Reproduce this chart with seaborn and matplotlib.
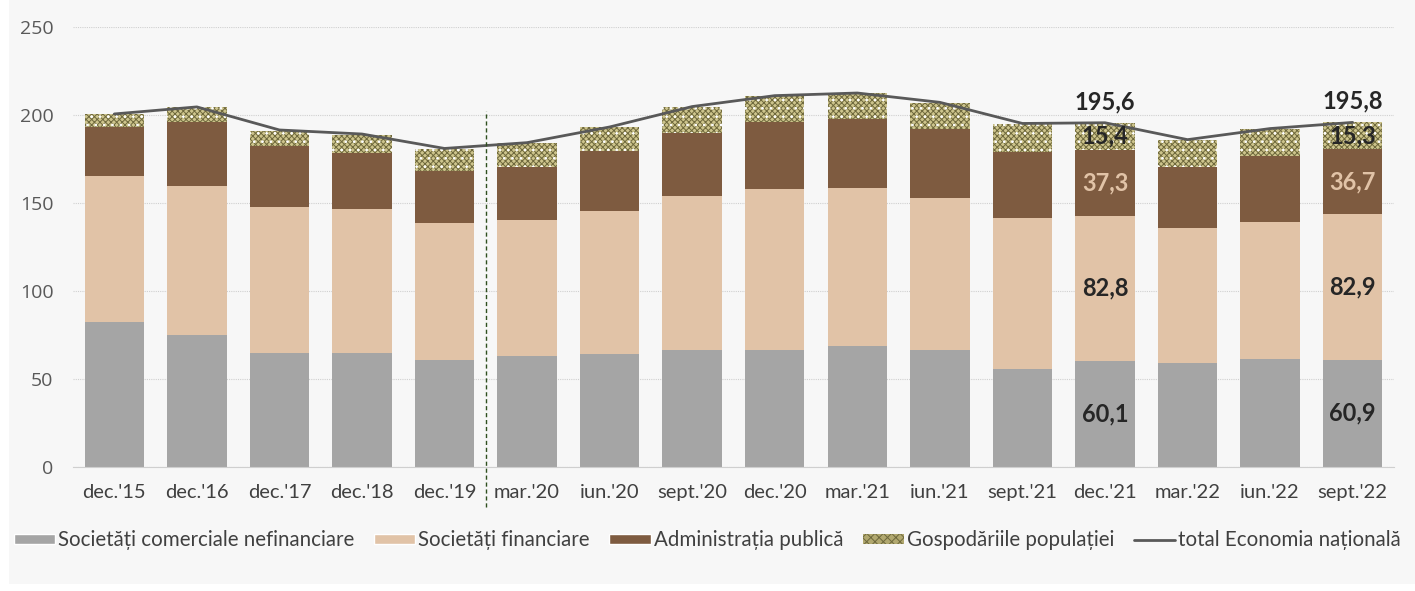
import numpy as np
import seaborn as sns
import matplotlib.pyplot as plt
from matplotlib.patches import Rectangle, Patch
from matplotlib.lines import Line2D

# Data (mld. lei)
labels = ["dec.'15", "dec.'16", "dec.'17", "dec.'18", "dec.'19", "mar.'20", "iun.'20", "sept.'20",
          "dec.'20", "mar.'21", "iun.'21", "sept.'21", "dec.'21", "mar.'22", "iun.'22", "sept.'22"]
nefinanciare = [82.2, 74.8, 65.0, 65.0, 60.8, 63.2, 64.0, 66.5, 66.5, 68.9, 66.5, 55.9, 60.1, 59.3, 61.5, 60.9]
financiare = [83.1, 84.9, 82.9, 81.4, 78.0, 77.3, 81.5, 87.3, 91.3, 89.6, 86.2, 85.6, 82.8, 76.3, 77.9, 82.9]
administratie = [27.7, 36.5, 34.5, 31.8, 29.6, 30.1, 34.2, 35.8, 38.4, 39.2, 39.1, 37.5, 37.3, 35.0, 37.3, 36.7]
gospodarii = [7.4, 8.2, 8.7, 10.6, 12.3, 13.3, 13.3, 14.8, 14.6, 14.6, 15.2, 15.9, 15.4, 15.2, 15.3, 15.3]
total = [200.6, 204.6, 191.5, 189.2, 181.0, 184.3, 193.2, 204.8, 211.0, 212.5, 207.2, 195.2, 195.6, 186.0, 192.3, 195.8]
labelled = [12, 15]

series_names = ["Societăți comerciale nefinanciare", "Societăți financiare",
                "Administrația publică", "Gospodăriile populației", "total Economia națională"]

sns.set_style("white")
plt.rcParams['font.family'] = ['Lato', 'DejaVu Sans']
plt.rcParams['hatch.linewidth'] = 0.7

c_gray = '#a5a5a5'
c_fin = '#e1c3a7'
c_adm = '#7e5b40'
c_hh = '#cdc48c'
c_hh_dark = '#6e683c'
c_line = '#595959'

fig = plt.figure(figsize=(14.15, 5.91), dpi=100, facecolor='white')
fig.patches.append(Rectangle((9 / 1415, 7 / 591), 1, 1, transform=fig.transFigure,
                             facecolor='#f7f7f7', edgecolor='none', zorder=-10))
ax = fig.add_axes([0.0516, 0.2098, 0.9335, 0.7445])
ax.set_facecolor('#f7f7f7')

g = np.array(nefinanciare)
f = np.array(financiare)
a = np.array(administratie)
h = np.array(gospodarii)
w = 0.72
sns.barplot(x=labels, y=g, color=c_gray, width=w, ax=ax, linewidth=0, saturation=1, zorder=2)
sns.barplot(x=labels, y=f, bottom=g, color=c_fin, width=w, ax=ax, linewidth=0, saturation=1, zorder=2)
sns.barplot(x=labels, y=a, bottom=g + f, color=c_adm, width=w, ax=ax, linewidth=0, saturation=1, zorder=2)
# households: fine dark checker with light dots on top
sns.barplot(x=labels, y=h, bottom=g + f + a, color=c_hh, width=w, ax=ax, linewidth=0, saturation=1,
            hatch='xxxxxx', edgecolor=c_hh_dark, zorder=2)
sns.barplot(x=labels, y=h, bottom=g + f + a, color='#ffffff', fill=False, width=w, ax=ax,
            linewidth=0, saturation=1, hatch='..', zorder=3)
sns.lineplot(x=np.arange(len(labels)), y=total, color=c_line, linewidth=2, ax=ax, zorder=4)

# break between annual and quarterly data
ax.plot([4.5, 4.5], [-23, 202], color='#2f4f1f', linestyle=(0, (3, 2)), linewidth=1,
        clip_on=False, zorder=5)

ax.set_xlim(-0.5, 15.5)
ax.set_ylim(0, 250)
ax.set_yticks([0, 50, 100, 150, 200, 250])
ax.yaxis.grid(True, color='#d0d0d0', linestyle=(0, (1, 1)), linewidth=0.8, zorder=0)
ax.set_axisbelow(True)
for s in ['top', 'right', 'left']:
    ax.spines[s].set_visible(False)
ax.spines['bottom'].set_color('#cfcfcf')
ax.set_xticks(np.arange(len(labels)))
ax.set_xticklabels(labels)
ax.set_xticks(np.arange(len(labels)) - 0.5, minor=True)
ax.tick_params(axis='x', which='major', length=0, pad=12, labelsize=14.5, labelcolor='#404040')
ax.tick_params(axis='x', which='minor', length=5, color='#cfcfcf')
ax.tick_params(axis='y', length=0, pad=14, labelsize=14, labelcolor='#595959')
for t in ax.get_yticklabels():
    t.set_family(['Open Sans', 'DejaVu Sans'])
ax.set_xlabel('')
ax.set_ylabel('')

def fmt(v):
    return f"{v:.1f}".replace('.', ',')

for i in labelled:
    kw = dict(ha='center', va='center', fontsize=17, fontweight='bold', zorder=6)
    ax.text(i, g[i] / 2, fmt(g[i]), color='#262626', **kw)
    ax.text(i, g[i] + f[i] / 2, fmt(f[i]), color='#262626', **kw)
    ax.text(i, g[i] + f[i] + a[i] / 2, fmt(a[i]), color=c_fin, **kw)
    ax.text(i, g[i] + f[i] + a[i] + h[i] / 2, fmt(h[i]), color='#262626', **kw)
    ax.text(i, total[i] + 12, fmt(total[i]), color='#262626', **kw)

handles = [Patch(facecolor=c_gray), Patch(facecolor=c_fin), Patch(facecolor=c_adm),
           Patch(facecolor='#b1a86f', hatch='xxxx', edgecolor=c_hh_dark, linewidth=0),
           Line2D([0], [0], color=c_line, linewidth=2)]
fig.legend(handles, series_names, loc='center', bbox_to_anchor=(0.5, 0.086), ncol=5, frameon=False,
           fontsize=14.8, handlelength=2.0, handleheight=0.4, handletextpad=0.15, columnspacing=0.95,
           labelcolor='#404040')

fig.savefig('out.png', dpi=100, facecolor='white')
